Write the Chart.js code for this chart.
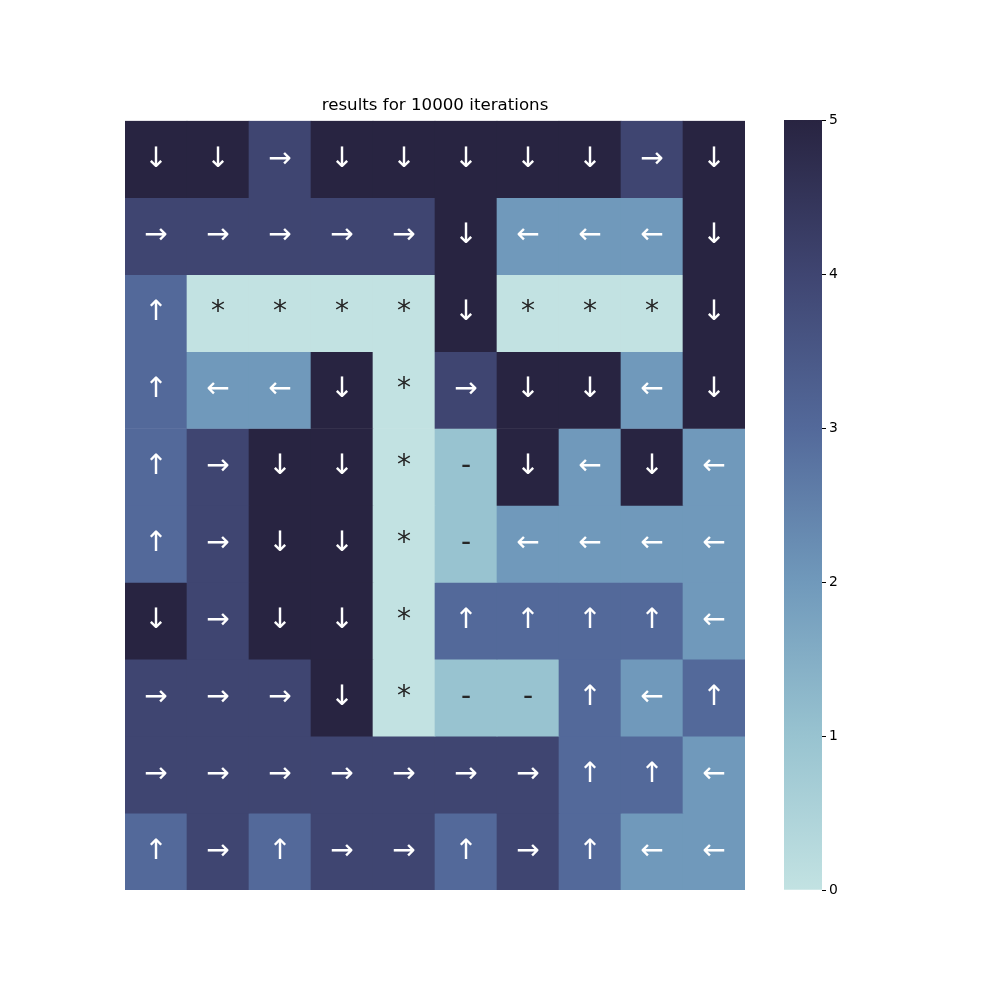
<!DOCTYPE html>
<html><head><meta charset="utf-8">
<script src="https://cdn.jsdelivr.net/npm/chart.js@4.4.1/dist/chart.umd.min.js"></script>
<style>html,body{margin:0;padding:0;background:#fff}#wrap{position:relative;width:1000px;height:1000px}canvas{position:absolute;left:0;top:0}</style>
</head><body><div id="wrap"><canvas id="heat" width="1000" height="1000"></canvas><canvas id="cbar" width="1000" height="1000"></canvas></div>
<script>
const chartTitle = 'results for 10000 iterations';
const columns = ['0','1','2','3','4','5','6','7','8','9'];
const rowIndex = [0,1,2,3,4,5,6,7,8,9];
const values = [
  [5,5,4,5,5,5,5,5,4,5],
  [4,4,4,4,4,5,2,2,2,5],
  [3,0,0,0,0,5,0,0,0,5],
  [3,2,2,5,0,4,5,5,2,5],
  [3,4,5,5,0,1,5,2,5,2],
  [3,4,5,5,0,1,2,2,2,2],
  [5,4,5,5,0,3,3,3,3,2],
  [4,4,4,5,0,1,1,3,2,3],
  [4,4,4,4,4,4,4,3,3,2],
  [3,4,3,4,4,3,4,3,2,2]
];
const symbols = [
  ['↓','↓','→','↓','↓','↓','↓','↓','→','↓'],
  ['→','→','→','→','→','↓','←','←','←','↓'],
  ['↑','*','*','*','*','↓','*','*','*','↓'],
  ['↑','←','←','↓','*','→','↓','↓','←','↓'],
  ['↑','→','↓','↓','*','-','↓','←','↓','←'],
  ['↑','→','↓','↓','*','-','←','←','←','←'],
  ['↓','→','↓','↓','*','↑','↑','↑','↑','←'],
  ['→','→','→','↓','*','-','-','↑','←','↑'],
  ['→','→','→','→','→','→','→','↑','↑','←'],
  ['↑','→','↑','→','→','↑','→','↑','←','←']
];
const colorbarTicks = [0,1,2,3,4,5];
const vmin = 0, vmax = 5;

const palette = ['#c2e2e2','#98c3d0','#7099bb','#53699a','#3f4571','#282441'];
function colorFor(v){ return palette[Math.round(v)]; }
const FONT = "'DejaVu Sans', sans-serif";

const datasets = rowIndex.map(r => ({
  label: 'row ' + r,
  data: columns.map(() => [r, r + 1]),
  backgroundColor: values[r].map(colorFor),
  borderWidth: 0,
  barPercentage: 1,
  categoryPercentage: 1
}));

const annot = {
  id: 'annot',
  afterDatasetsDraw(chart) {
    const ctx = chart.ctx;
    ctx.save();
    ctx.textAlign = 'center';
    ctx.textBaseline = 'middle';
    chart.data.datasets.forEach((ds, r) => {
      const meta = chart.getDatasetMeta(r);
      meta.data.forEach((el, c) => {
        const v = values[r][c];
        ctx.fillStyle = v >= 2 ? '#ffffff' : '#262626';
        ctx.font = '28px ' + FONT;
        ctx.fillText(symbols[r][c], el.x, (el.y + el.base) / 2);
      });
    });
    ctx.restore();
  }
};

new Chart(document.getElementById('heat'), {
  type: 'bar',
  data: { labels: columns, datasets },
  options: {
    responsive: false, animation: false, devicePixelRatio: 1,
    layout: { padding: { left: 125, right: 255, top: 0, bottom: 110 } },
    plugins: {
      legend: { display: false }, tooltip: { enabled: false },
      title: { display: true, text: chartTitle, color: '#000',
        font: { family: FONT, size: 16.67, weight: 'normal' },
        padding: { top: 95.4, bottom: 5.4 } }
    },
    scales: {
      x: { type: 'category', stacked: true, display: false },
      y: { type: 'linear', min: 0, max: 10, reverse: true, display: false }
    }
  },
  plugins: [annot]
});

new Chart(document.getElementById('cbar'), {
  type: 'bar',
  data: { labels: ['cb'], datasets: [{
    data: [[vmin, vmax]],
    borderWidth: 0, barPercentage: 1, categoryPercentage: 1,
    backgroundColor(ctx) {
      const ch = ctx.chart, ca = ch.chartArea;
      if (!ca) return palette[0];
      const g = ch.ctx.createLinearGradient(0, ca.bottom, 0, ca.top);
      palette.forEach((c, i) => g.addColorStop(i / (palette.length - 1), c));
      return g;
    }
  }]},
  options: {
    responsive: false, animation: false, devicePixelRatio: 1,
    layout: { padding: { left: 784, right: 138, top: 120, bottom: 110 } },
    plugins: { legend: { display: false }, tooltip: { enabled: false }, title: { display: false } },
    scales: {
      x: { display: false },
      y: { type: 'linear', position: 'right', min: vmin, max: vmax,
        afterBuildTicks(s) { s.ticks = colorbarTicks.map(v => ({ value: v })); },
        afterFit(s) { s.width = 40; },
        ticks: { color: '#000', font: { family: FONT, size: 13.9 }, padding: 3 },
        grid: { drawOnChartArea: false, drawTicks: true, tickLength: 4, color: '#000', tickWidth: 1 },
        border: { display: false }
      }
    }
  }
});
</script></body></html>
